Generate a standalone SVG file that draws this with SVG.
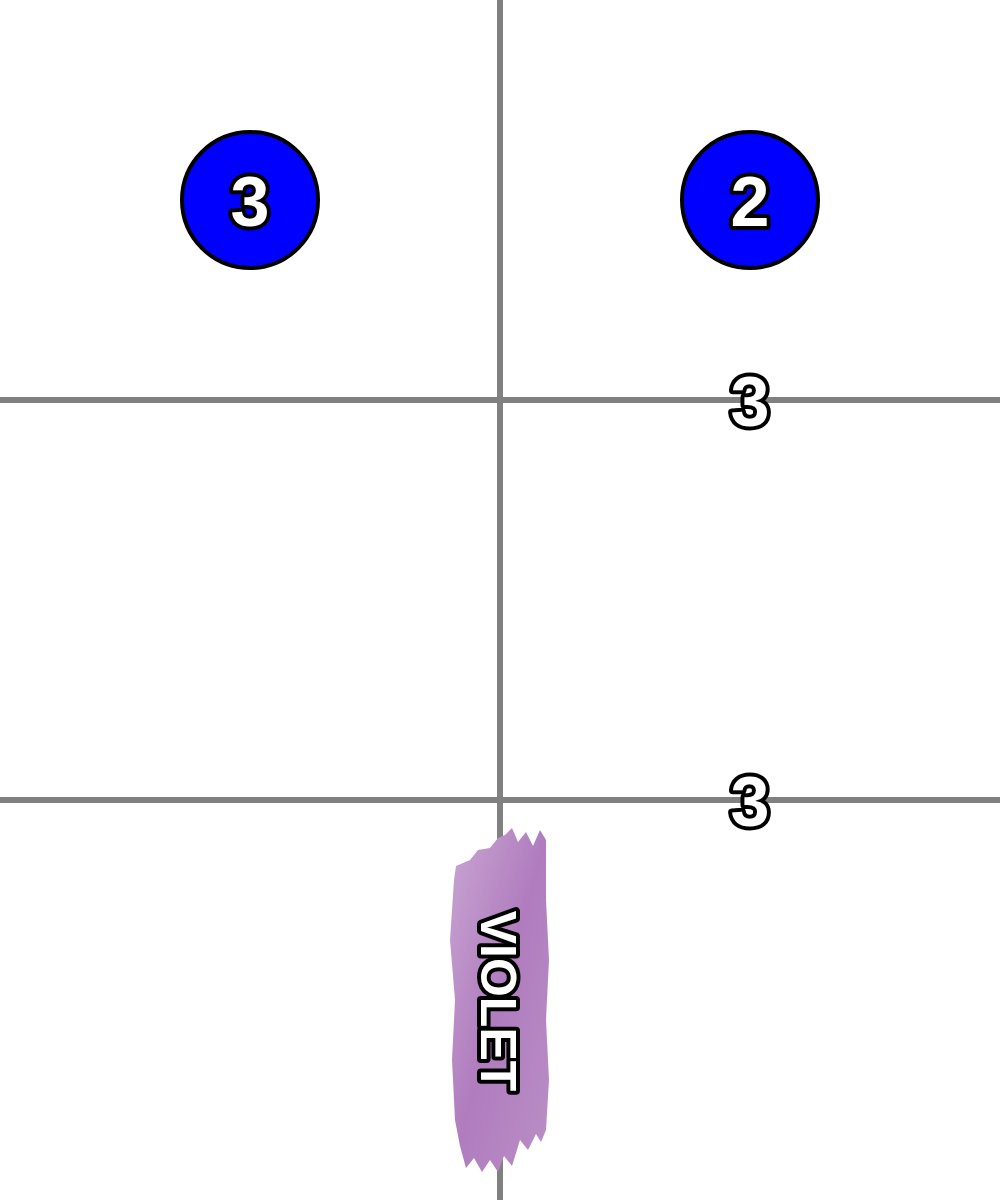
<svg xmlns="http://www.w3.org/2000/svg" width="1000" height="1200" viewBox="0 0 1000 1200">
<style>
.grid{stroke:#808080;stroke-width:6;fill:none}
.node{fill:#0000ff;stroke:#000;stroke-width:4}
.lbl{font-family:"Liberation Sans",Arial,sans-serif;font-weight:bold;font-size:70px;fill:#fff;stroke:#000;stroke-width:8;stroke-linejoin:round;paint-order:stroke;text-anchor:middle;dominant-baseline:central}
.vlbl{font-size:50px;stroke-width:8}
</style>
<defs>
<linearGradient id="vg" x1="0" y1="0" x2="1" y2="1">
<stop offset="0" stop-color="#c9a6d3"/>
<stop offset="0.5" stop-color="#b07cbe"/>
<stop offset="1" stop-color="#ba8fc6"/>
</linearGradient>
</defs>
<rect width="1000" height="1200" fill="#fff"/>
<g id="connectors">
<line class="grid" x1="500" y1="0" x2="500" y2="1200"/>
<line class="grid" x1="0" y1="400" x2="1000" y2="400"/>
<line class="grid" x1="0" y1="800" x2="1000" y2="800"/>
</g>
<g id="node-a">
<circle class="node" cx="250" cy="200" r="68"/>
<text class="lbl" x="250" y="202">3</text>
</g>
<g id="node-b">
<circle class="node" cx="750" cy="200" r="68"/>
<text class="lbl" x="750" y="202">2</text>
</g>
<g id="node-c">
<text class="lbl" x="750" y="402">3</text>
</g>
<g id="node-d">
<text class="lbl" x="750" y="802">3</text>
</g>
<g id="node-violet">
<path fill="url(#vg)" d="M505 835 L512 828 L518 842 L526 832 L533 846 L540 830 L546 840 L546 900 L549 960 L546 1020 L549 1080 L546 1130 L541 1142 L536 1134 L528 1150 L520 1140 L512 1166 L504 1156 L498 1172 L490 1160 L482 1172 L474 1158 L466 1168 L460 1146 L455 1120 L452 1060 L455 1000 L450 940 L454 880 L456 866 L470 860 L478 850 L490 848 L498 838 Z"/>
<text class="lbl vlbl" transform="translate(498 1001) rotate(90)">VIOLET</text>
</g>
</svg>
